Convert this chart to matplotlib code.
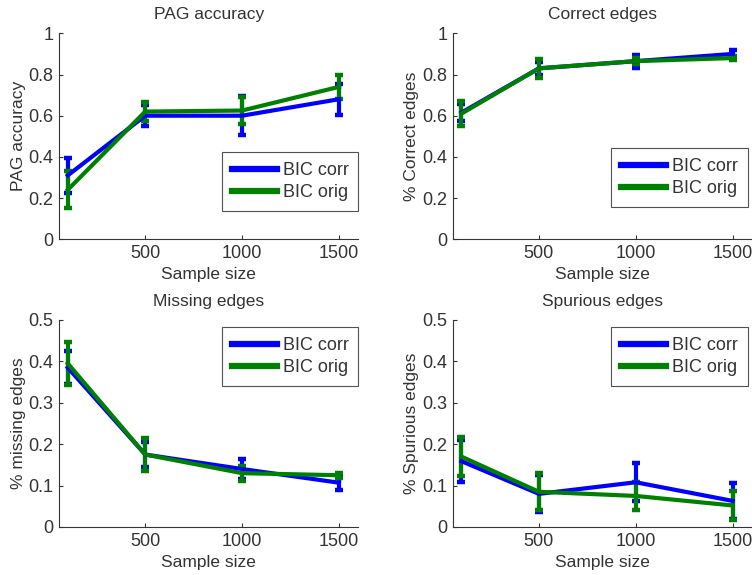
import matplotlib
matplotlib.use("Agg")
import matplotlib.pyplot as plt

plt.rcParams["font.family"] = ["Liberation Sans", "DejaVu Sans"]

# Sample sizes on the x axis
sample_sizes = [100, 500, 1000, 1500]
series_names = ["BIC corr", "BIC orig"]

# PAG accuracy (mean and error half-width)
pag_corr = [0.31, 0.60, 0.60, 0.68]
pag_corr_err = [0.085, 0.05, 0.095, 0.075]
pag_orig = [0.24, 0.62, 0.625, 0.74]
pag_orig_err = [0.09, 0.045, 0.065, 0.06]

# Fraction of correct edges
correct_corr = [0.615, 0.83, 0.865, 0.90]
correct_corr_err = [0.04, 0.03, 0.032, 0.02]
correct_orig = [0.61, 0.83, 0.865, 0.88]
correct_orig_err = [0.06, 0.045, 0.015, 0.01]

# Fraction of missing edges
missing_corr = [0.385, 0.175, 0.14, 0.107]
missing_corr_err = [0.04, 0.03, 0.025, 0.018]
missing_orig = [0.395, 0.175, 0.13, 0.125]
missing_orig_err = [0.053, 0.04, 0.018, 0.006]

# Fraction of spurious edges
spurious_corr = [0.159, 0.08, 0.108, 0.063]
spurious_corr_err = [0.05, 0.045, 0.046, 0.043]
spurious_orig = [0.17, 0.085, 0.075, 0.052]
spurious_orig_err = [0.047, 0.045, 0.033, 0.035]

panels = [
    dict(title="PAG accuracy", ylabel="PAG accuracy",
         data=[(pag_corr, pag_corr_err), (pag_orig, pag_orig_err)],
         ylim=(0, 1), yticks=[0, 0.2, 0.4, 0.6, 0.8, 1],
         yticklabels=["0", "0.2", "0.4", "0.6", "0.8", "1"],
         legend_loc="lower right", legend_anchor=(1.0, 0.135)),
    dict(title="Correct edges", ylabel="% Correct edges",
         data=[(correct_corr, correct_corr_err), (correct_orig, correct_orig_err)],
         ylim=(0, 1), yticks=[0, 0.2, 0.4, 0.6, 0.8, 1],
         yticklabels=["0", "0.2", "0.4", "0.6", "0.8", "1"],
         legend_loc="lower right", legend_anchor=(0.985, 0.155)),
    dict(title="Missing edges", ylabel="% missing edges",
         data=[(missing_corr, missing_corr_err), (missing_orig, missing_orig_err)],
         ylim=(0, 0.5), yticks=[0, 0.1, 0.2, 0.3, 0.4, 0.5],
         yticklabels=["0", "0.1", "0.2", "0.3", "0.4", "0.5"],
         legend_loc="upper right", legend_anchor=(1.0, 0.966)),
    dict(title="Spurious edges", ylabel="% Spurious edges",
         data=[(spurious_corr, spurious_corr_err), (spurious_orig, spurious_orig_err)],
         ylim=(0, 0.5), yticks=[0, 0.1, 0.2, 0.3, 0.4, 0.5],
         yticklabels=["0", "0.1", "0.2", "0.3", "0.4", "0.5"],
         legend_loc="upper right", legend_anchor=(0.985, 0.966)),
]

colors = ["#0000ff", "#008000"]
text_color = "#333333"

fig = plt.figure(figsize=(7.52, 5.75), dpi=100)
positions = [
    [0.0785, 0.584, 0.398, 0.358],
    [0.602, 0.584, 0.398, 0.358],
    [0.0785, 0.0835, 0.398, 0.360],
    [0.602, 0.0835, 0.398, 0.360],
]

for pos, p in zip(positions, panels):
    ax = fig.add_axes(pos)
    for (vals, errs), color, name in zip(p["data"], colors, series_names):
        ax.errorbar(sample_sizes, vals, yerr=errs, color=color,
                    linewidth=3.0, elinewidth=3.0, capsize=2.8,
                    capthick=3.2, label=name)
    ax.set_xlim(55, 1600)
    ax.set_ylim(*p["ylim"])
    ax.set_xticks([500, 1000, 1500])
    ax.set_xticklabels(["500", "1000", "1500"])
    ax.set_yticks(p["yticks"])
    ax.set_yticklabels(p["yticklabels"])
    ax.tick_params(direction="in", length=3, labelsize=13, colors=text_color,
                   pad=4)
    for side in ("top", "right"):
        ax.spines[side].set_visible(False)
    for side in ("left", "bottom"):
        ax.spines[side].set_color(text_color)
        ax.spines[side].set_linewidth(0.8)
    ax.set_title(p["title"], fontsize=12.5, color=text_color, pad=10)
    ax.set_xlabel("Sample size", fontsize=12.5, color=text_color, labelpad=4)
    ax.set_ylabel(p["ylabel"], fontsize=12.5, color=text_color, labelpad=2)
    leg_handles = [plt.Line2D([], [], color=c, linewidth=4.5) for c in colors]
    leg = ax.legend(leg_handles, series_names, loc=p["legend_loc"],
                    bbox_to_anchor=p["legend_anchor"], borderaxespad=0,
                    fontsize=13, frameon=True, fancybox=False,
                    handlelength=2.5, handletextpad=0.3, borderpad=0.55,
                    labelspacing=0.3)
    leg.get_frame().set_edgecolor("#262626")
    leg.get_frame().set_linewidth(0.8)
    for t in leg.get_texts():
        t.set_color(text_color)

fig.savefig("out.png", dpi=100, facecolor="white")
